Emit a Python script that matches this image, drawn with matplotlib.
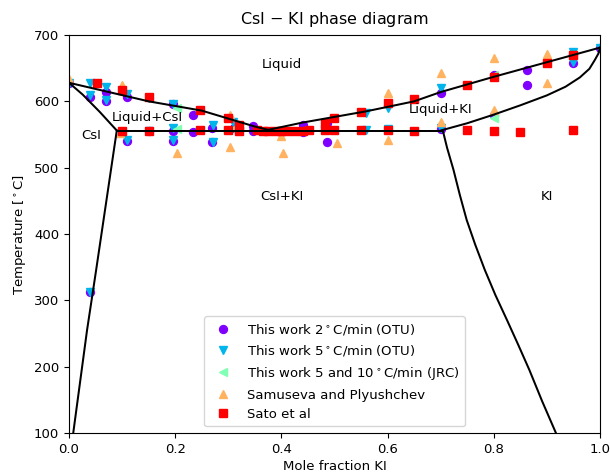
import matplotlib
matplotlib.use("Agg")
import matplotlib.pyplot as plt
import numpy as np

plt.rcParams["font.size"] = 9.5

# phase boundaries (mole fraction KI, temperature in C)
liq_csi_x = [0.0, 0.15, 0.25, 0.35, 0.375]
liq_csi_T = [628, 600, 586, 562, 557]
liq_ki_x = [0.375, 0.44, 0.56, 0.65, 0.70, 0.80, 0.90, 1.0]
liq_ki_T = [557, 568, 585, 600, 614, 637, 659, 681]
sol_csi_x = [0.0, 0.026, 0.058, 0.09]
sol_csi_T = [628, 610, 584, 556]
solv_csi_x = [0.09, 0.051, 0.034, 0.008]
solv_csi_T = [556, 345, 255, 100]
sol_ki_x = [0.70, 0.75, 0.80, 0.85, 0.90, 0.935, 0.962, 0.98, 0.99, 0.997, 1.0]
sol_ki_T = [556, 567, 580, 594, 609, 622, 636, 649, 662, 672, 681]
solv_ki_x = [0.704, 0.712, 0.724, 0.736, 0.749, 0.765, 0.783, 0.803, 0.825, 0.846, 0.867, 0.891, 0.917]
solv_ki_T = [556, 530, 497, 459, 421, 384, 346, 308, 270, 233, 195, 148, 100]
eut_x = [0.09, 0.704]
eut_T = [556, 556]

# measurements
otu2_x = [0.0, 0.04, 0.04, 0.07, 0.07, 0.11, 0.11, 0.15, 0.196, 0.196, 0.196, 0.234, 0.234,
          0.27, 0.27, 0.31, 0.347, 0.347, 0.44, 0.44, 0.485, 0.485, 0.70, 0.70, 0.80, 0.80,
          0.862, 0.862, 0.95, 0.95, 1.0]
otu2_T = [628, 606, 313, 614, 600, 606, 540, 555, 596, 555, 540, 579, 554,
          560, 539, 560, 563, 556, 564, 554, 568, 539, 613, 558, 640, 579,
          647, 625, 670, 658, 680]
otu5_x = [0.0, 0.04, 0.04, 0.04, 0.07, 0.07, 0.11, 0.11, 0.15, 0.15, 0.196, 0.196, 0.196,
          0.271, 0.271, 0.309, 0.56, 0.56, 0.60, 0.60, 0.70, 0.70, 0.95, 0.95, 1.0]
otu5_T = [628, 628, 610, 313, 622, 602, 611, 541, 605, 556, 596, 560, 541,
          564, 539, 569, 582, 557, 590, 558, 620, 560, 675, 660, 680]
jrc_x = [0.203, 0.203, 0.309, 0.80, 0.80]
jrc_T = [590, 558, 558, 640, 575]
sam_x = [0.0, 0.10, 0.096, 0.203, 0.303, 0.303, 0.403, 0.40, 0.504, 0.60, 0.60,
         0.70, 0.70, 0.80, 0.80, 0.90, 0.90]
sam_T = [634, 625, 552, 522, 580, 531, 522, 548, 537, 612, 541,
         642, 569, 665, 587, 672, 628]
sato_x = [0.053, 0.10, 0.10, 0.15, 0.15, 0.247, 0.247, 0.30, 0.30, 0.32, 0.32,
          0.355, 0.365, 0.375, 0.39, 0.40, 0.41, 0.425, 0.44, 0.452,
          0.482, 0.482, 0.50, 0.50, 0.55, 0.55, 0.60, 0.60, 0.65, 0.65,
          0.75, 0.75, 0.80, 0.80, 0.85, 0.90, 0.95, 0.95]
sato_T = [628, 617, 555, 606, 556, 587, 557, 575, 557, 564, 555,
          557, 556, 555, 555, 556, 555, 555, 556, 557,
          568, 557, 575, 557, 584, 557, 597, 557, 603, 555,
          625, 557, 637, 555, 554, 658, 670, 557]

labels = ["This work 2$^\\circ$C/min (OTU)", "This work 5$^\\circ$C/min (OTU)",
          "This work 5 and 10$^\\circ$C/min (JRC)", "Samuseva and Plyushchev", "Sato et al"]

colors = plt.cm.rainbow(np.linspace(0, 1, 5))

fig = plt.figure(figsize=(6.1, 4.73), dpi=100)
ax = fig.add_axes([0.1131, 0.0846, 0.8705, 0.8414])

ms = 5.7
ax.plot(otu2_x, otu2_T, "o", color=colors[0], label=labels[0], ms=ms)
ax.plot(otu5_x, otu5_T, "v", color=colors[1], label=labels[1], ms=ms)
ax.plot(jrc_x, jrc_T, "<", color=colors[2], label=labels[2], ms=ms)
ax.plot(sam_x, sam_T, "^", color=colors[3], label=labels[3], ms=ms)
ax.plot(sato_x, sato_T, "s", color=colors[4], label=labels[4], ms=ms)

for bx, bT in [(liq_csi_x, liq_csi_T), (liq_ki_x, liq_ki_T), (sol_csi_x, sol_csi_T),
               (solv_csi_x, solv_csi_T), (sol_ki_x, sol_ki_T), (solv_ki_x, solv_ki_T),
               (eut_x, eut_T)]:
    ax.plot(bx, bT, "k-", lw=1.45)

ax.text(0.401, 656, "Liquid", ha="center", va="center")
ax.text(0.147, 575, "Liquid+CsI", ha="center", va="center")
ax.text(0.041, 548, "CsI", ha="center", va="center")
ax.text(0.401, 457, "CsI+KI", ha="center", va="center")
ax.text(0.70, 587, "Liquid+KI", ha="center", va="center")
ax.text(0.90, 457, "KI", ha="center", va="center")

ax.set_xlim(0, 1)
ax.set_ylim(100, 700)
ax.set_xlabel("Mole fraction KI", labelpad=3)
ax.set_ylabel("Temperature [$^\\circ$C]")
ax.set_title("CsI $-$ KI phase diagram", fontsize=11.5, pad=8)
ax.legend(loc="lower center")

fig.savefig("out.png", dpi=100)
